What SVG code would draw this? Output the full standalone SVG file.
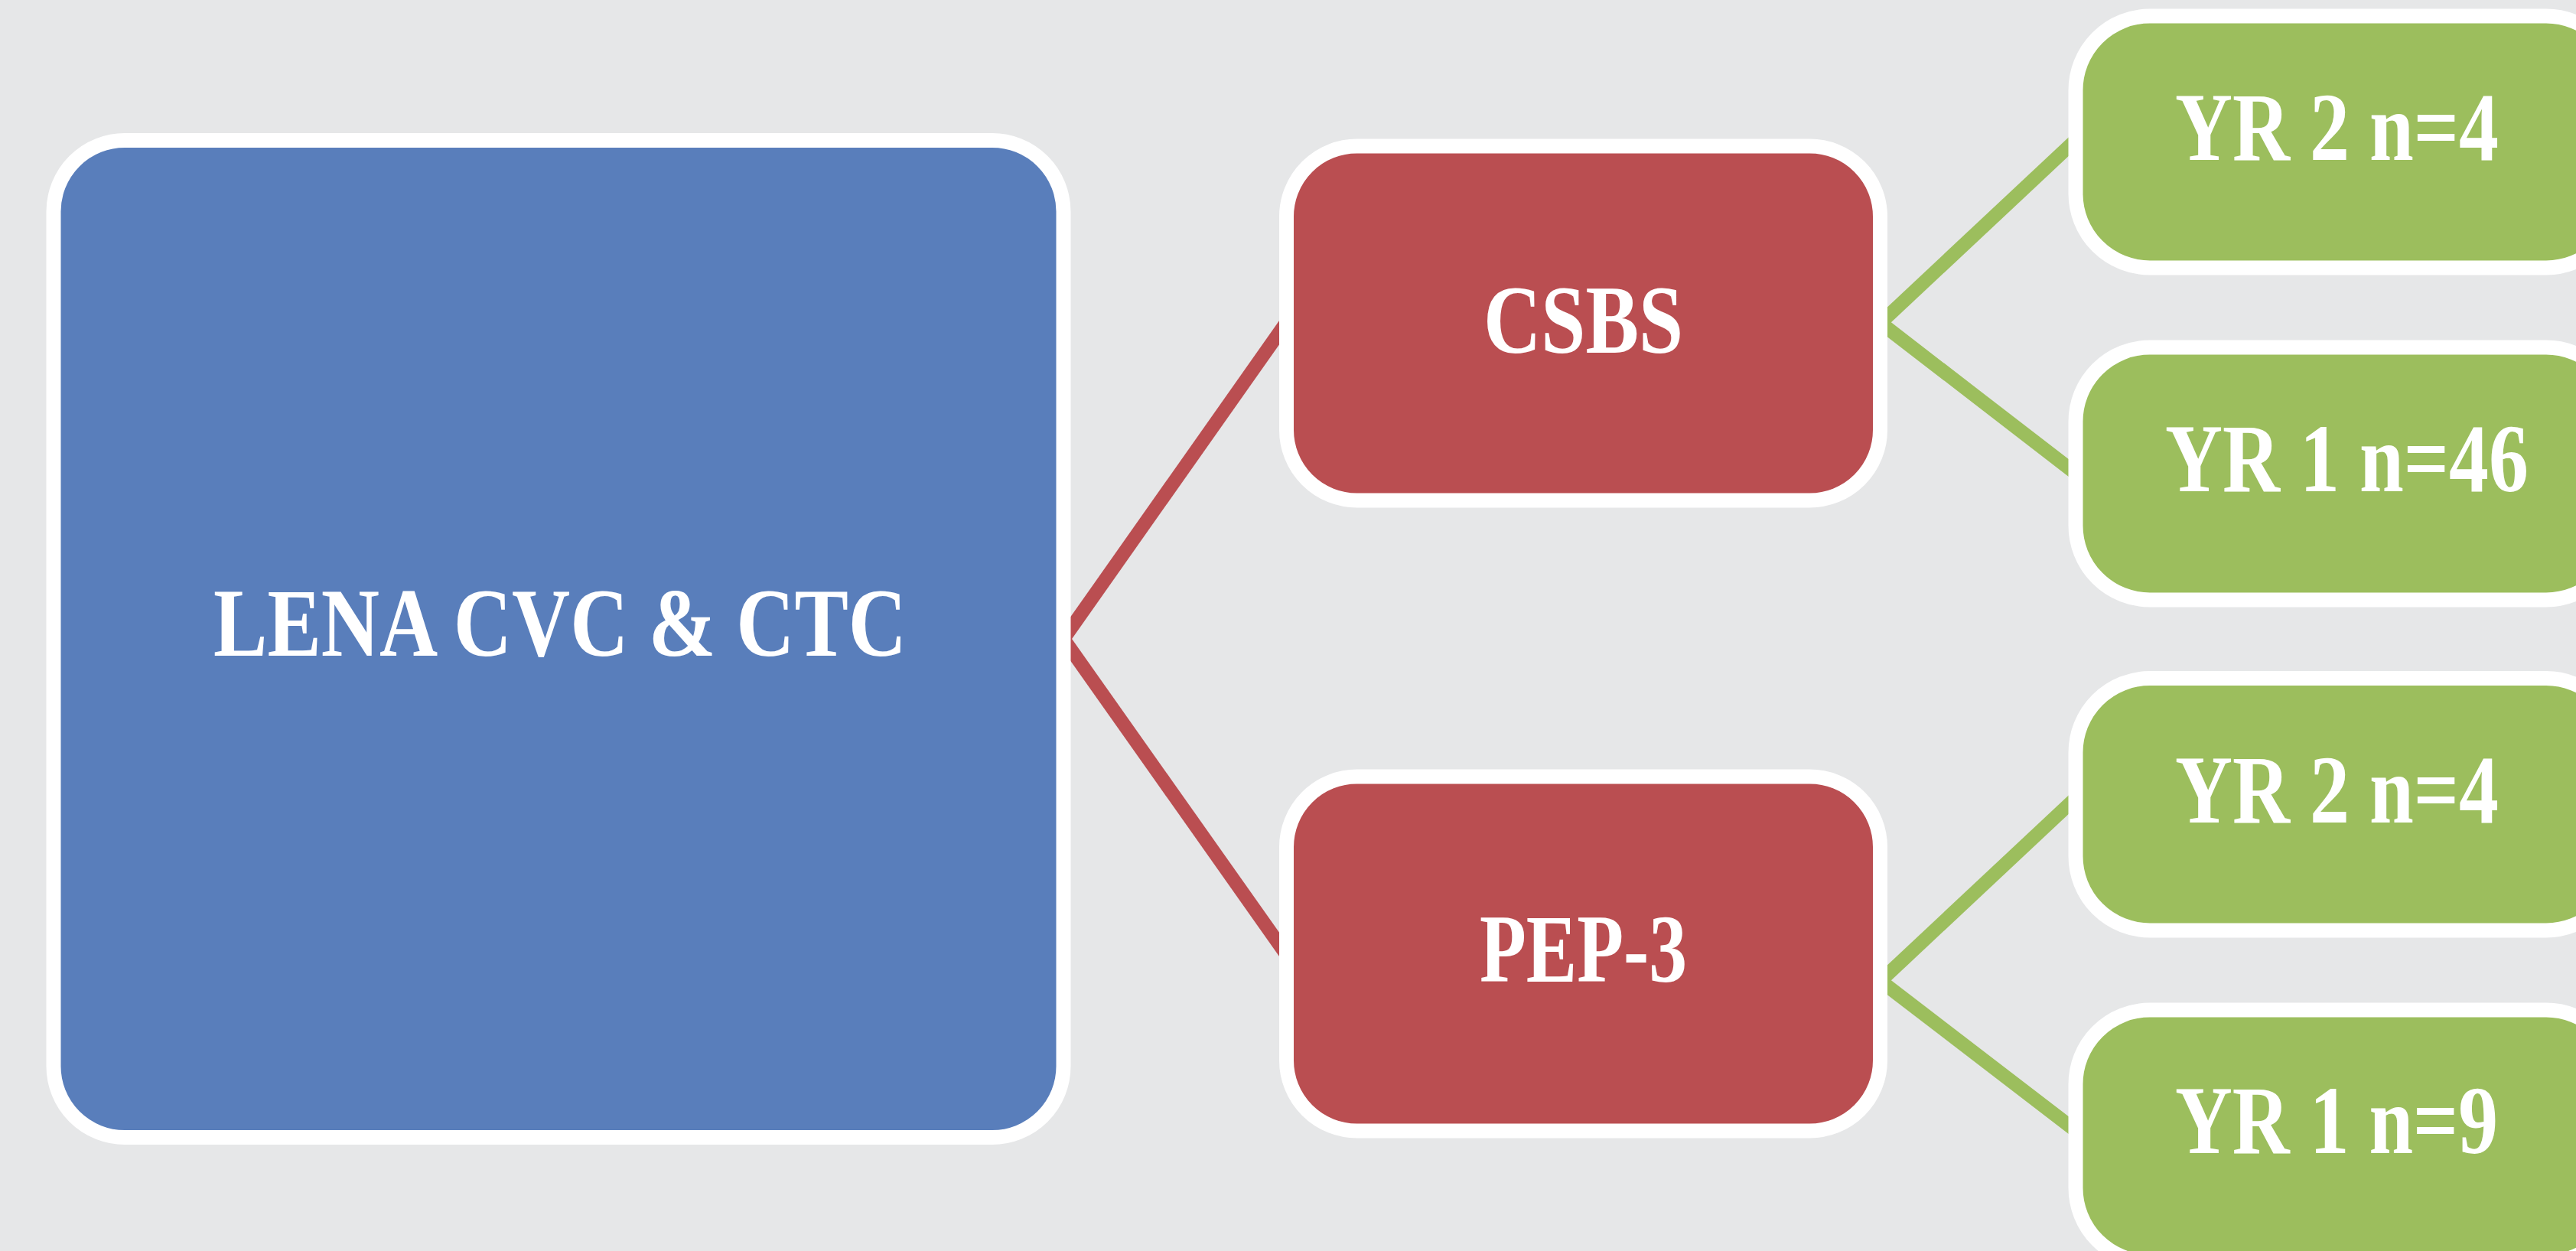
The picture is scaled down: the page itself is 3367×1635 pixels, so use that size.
<svg xmlns="http://www.w3.org/2000/svg" width="3367" height="1635" viewBox="0 0 3367 1635">
<style>
.bg{fill:#E6E7E8}
.box{stroke:#FFFFFF;stroke-width:19}
.blue{fill:#597EBB}
.red{fill:#BA4E51}
.green{fill:#9CBE5D}
.lred{stroke:#BA4E51;stroke-width:18;fill:none}
.lgreen{stroke:#9CBE5D;stroke-width:18;fill:none}
.t{font-family:"Liberation Serif","DejaVu Serif",serif;font-size:128px;font-weight:bold;fill:#FFFFFF}
</style>
<rect class="bg" x="0" y="0" width="3367" height="1635"/>
<g id="connectors">
<line class="lred" x1="1390" y1="835" x2="1681" y2="422"/>
<line class="lred" x1="1390" y1="835" x2="1681" y2="1247"/>
<line class="lgreen" x1="2458" y1="422" x2="2720" y2="176.5"/>
<line class="lgreen" x1="2458" y1="422" x2="2720" y2="624"/>
<line class="lgreen" x1="2458" y1="1282" x2="2720" y2="1036.5"/>
<line class="lgreen" x1="2458" y1="1282" x2="2720" y2="1483"/>
</g>
<g id="lena">
<rect class="box blue" x="70" y="183.5" width="1320" height="1303" rx="93" ry="93"/>
<text class="t" x="279" y="857" textLength="906" lengthAdjust="spacingAndGlyphs">LENA CVC &amp; CTC</text>
</g>
<g id="csbs">
<rect class="box red" x="1681.5" y="191" width="776" height="463" rx="92" ry="92"/>
<text class="t" x="1939" y="461" textLength="261" lengthAdjust="spacingAndGlyphs">CSBS</text>
</g>
<g id="pep3">
<rect class="box red" x="1681.5" y="1015" width="776" height="463" rx="92" ry="92"/>
<text class="t" x="1934" y="1283" textLength="271" lengthAdjust="spacingAndGlyphs">PEP-3</text>
</g>
<g id="csbs-yr2">
<rect class="box green" x="2713" y="21" width="712" height="329" rx="97" ry="97"/>
<text class="t" x="2843" y="209" textLength="423" lengthAdjust="spacingAndGlyphs">YR 2 n=4</text>
</g>
<g id="csbs-yr1">
<rect class="box green" x="2713" y="454" width="712" height="330" rx="97" ry="97"/>
<text class="t" x="2830" y="642" textLength="475" lengthAdjust="spacingAndGlyphs">YR 1 n=46</text>
</g>
<g id="pep3-yr2">
<rect class="box green" x="2713" y="886.5" width="712" height="329.5" rx="97" ry="97"/>
<text class="t" x="2843" y="1075" textLength="423" lengthAdjust="spacingAndGlyphs">YR 2 n=4</text>
</g>
<g id="pep3-yr1">
<rect class="box green" x="2713" y="1320" width="712" height="329.5" rx="97" ry="97"/>
<text class="t" x="2843" y="1507" textLength="422" lengthAdjust="spacingAndGlyphs">YR 1 n=9</text>
</g>
</svg>
